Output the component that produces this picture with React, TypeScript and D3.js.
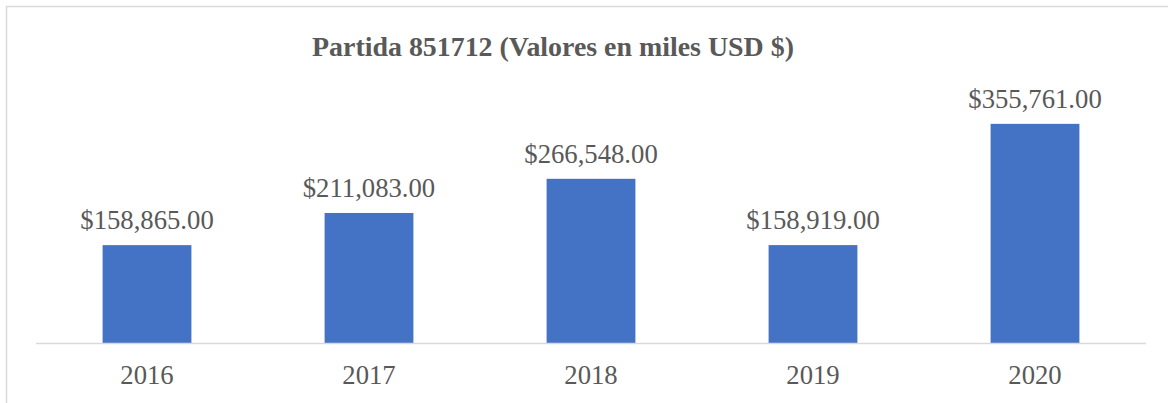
import React from "react";
import * as d3 from "d3";

const categories = ["2016", "2017", "2018", "2019", "2020"];
const values = [158865, 211083, 266548, 158919, 355761];
const title = "Partida 851712 (Valores en miles USD $)";

const W = 1168;
const H = 403;
const FONT = "'Times New Roman', 'Liberation Serif', serif";
const TEXT = "#595959";

export default function App() {
  const plotLeft = 36;
  const plotRight = 1146;
  const baseY = 343;
  const topY = 96.6;

  const x = d3.scaleBand<string>().domain(categories).range([plotLeft, plotRight]).paddingInner(0.6).paddingOuter(0.3);
  const y = d3.scaleLinear().domain([0, 400000]).range([baseY, topY]);
  const fmt = (v: number) => "$" + d3.format(",.2f")(v);

  return (
    <svg width={W} height={H} style={{ position: "absolute", left: 0, top: 0, display: "block" }}>
      <rect x={0} y={0} width={W} height={H} fill="#ffffff" />
      <rect x={6.5} y={6.5} width={W + 20} height={H + 20} fill="#ffffff" stroke="#D9D9D9" strokeWidth={1.5} />
      <text x={553} y={56} textAnchor="middle" fontFamily={FONT} fontWeight="bold" fontSize={27.9} fill={TEXT}>
        {title}
      </text>
      {categories.map((c, i) => (
        <g key={c}>
          <rect x={x(c)!} y={y(values[i])} width={x.bandwidth()} height={baseY - y(values[i])} fill="#4472C4" />
          <text x={x(c)! + x.bandwidth() / 2} y={y(values[i]) - 16} textAnchor="middle" fontFamily={FONT} fontSize={26.7} fill={TEXT}>
            {fmt(values[i])}
          </text>
          <text x={x(c)! + x.bandwidth() / 2} y={384} textAnchor="middle" fontFamily={FONT} fontSize={26.7} fill={TEXT}>
            {c}
          </text>
        </g>
      ))}
      <line x1={plotLeft} x2={plotRight} y1={baseY + 0.5} y2={baseY + 0.5} stroke="#D9D9D9" strokeWidth={1.5} />
    </svg>
  );
}
